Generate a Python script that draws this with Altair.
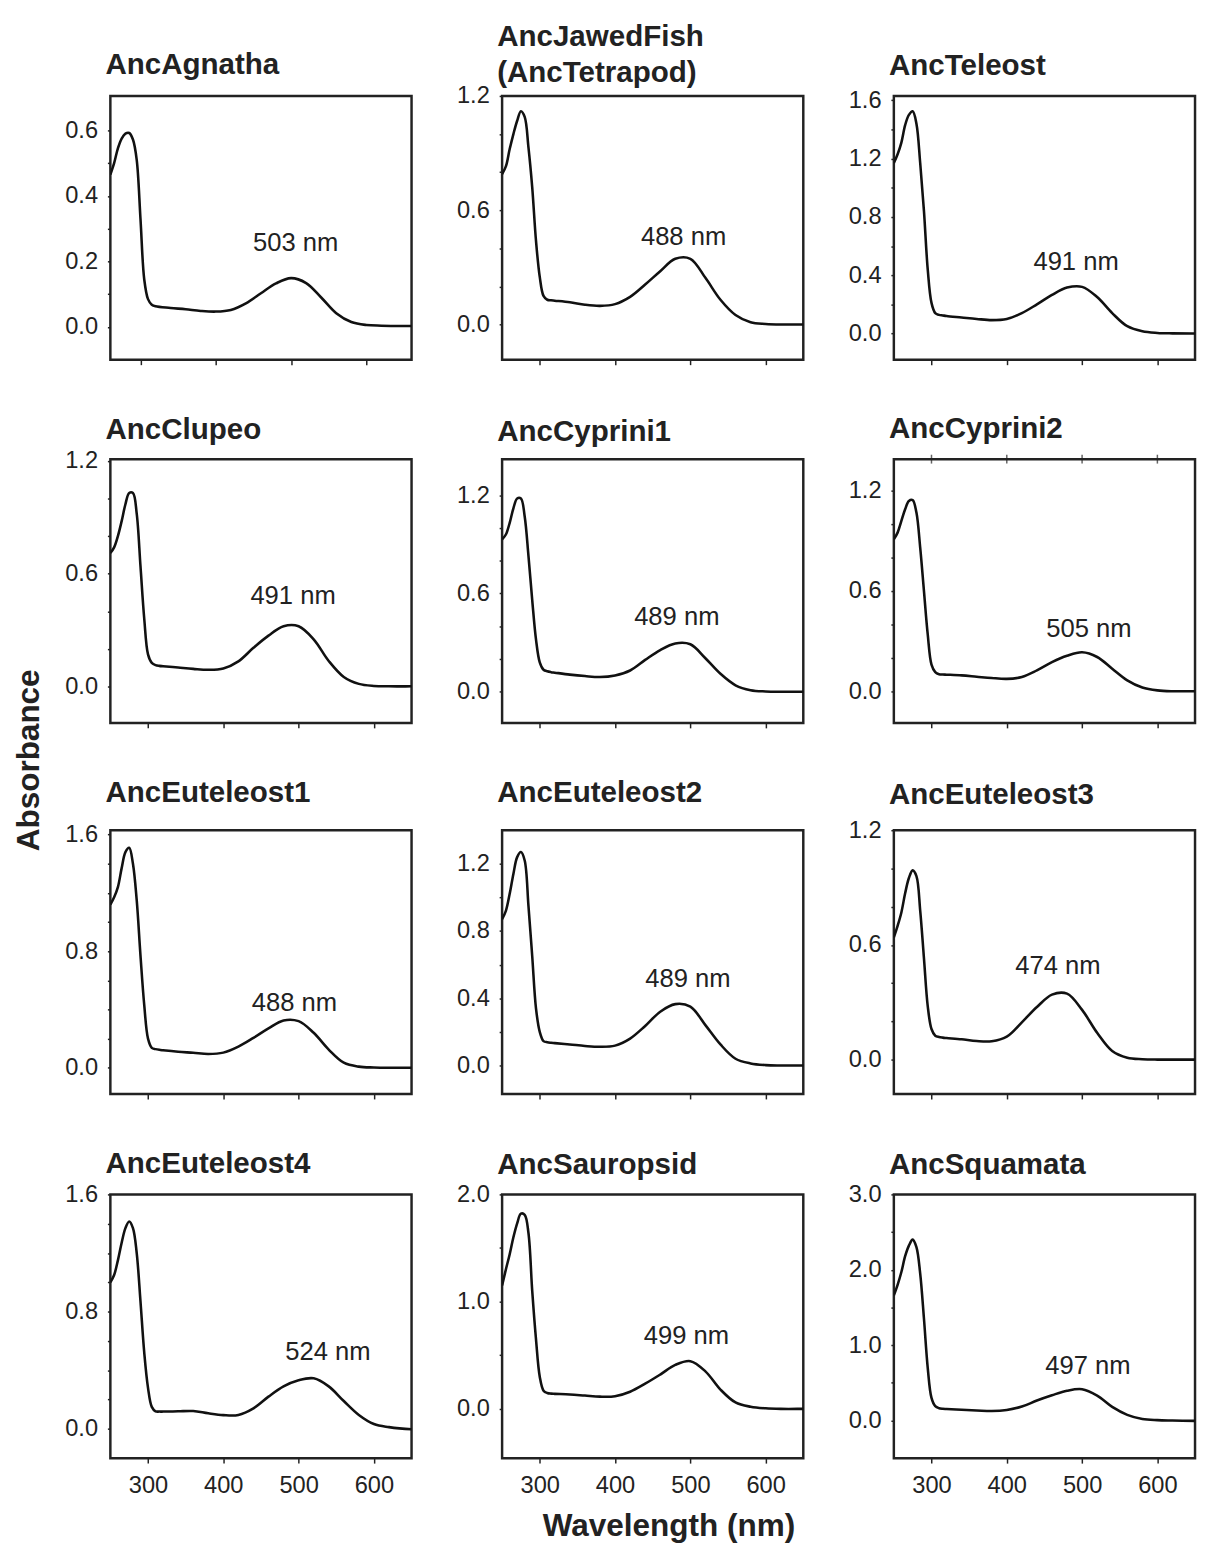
import altair as alt
import pandas as pd

FONT = "Liberation Sans"

# Wavelength grid (nm) shared by all spectra
WAVELENGTH = [250, 255, 260, 265, 270, 275, 280, 285, 290, 295, 300, 305, 310, 315, 320,
              340, 360, 380, 400, 420, 440, 460, 480, 500, 520, 540, 560, 580, 600, 620, 650, 660]

PANEL_NAMES = ["AncAgnatha", ["AncJawedFish", "(AncTetrapod)"], "AncTeleost",
               "AncClupeo", "AncCyprini1", "AncCyprini2",
               "AncEuteleost1", "AncEuteleost2", "AncEuteleost3",
               "AncEuteleost4", "AncSauropsid", "AncSquamata"]

PEAK_LABELS = ["503 nm", "488 nm", "491 nm", "491 nm", "489 nm", "505 nm",
               "488 nm", "489 nm", "474 nm", "524 nm", "499 nm", "497 nm"]

# absorbance readings per panel (None = outside the plotted range)
ABS_AGNATHA = [None, None, 0.465, 0.50, 0.545, 0.575, 0.59, 0.592, 0.572, 0.51, 0.33, 0.145, 0.085, 0.068, 0.063,
               0.058, 0.054, 0.049, 0.047, 0.052, 0.072, 0.103, 0.133, 0.149, 0.134, 0.09, 0.042, 0.015, 0.006, 0.004, 0.003, 0.003]
ABS_JAWEDFISH = [0.79, 0.83, 0.92, 1.0, 1.07, 1.12, 1.09, 0.93, 0.72, 0.44, 0.25, 0.15, 0.13, 0.127, 0.125,
                 0.117, 0.104, 0.098, 0.107, 0.145, 0.21, 0.28, 0.345, 0.345, 0.245, 0.13, 0.05, 0.012, 0.003, 0.0, 0.0, 0.0]
ABS_TELEOST = [1.17, 1.23, 1.31, 1.43, 1.5, 1.525, 1.44, 1.17, 0.84, 0.44, 0.21, 0.14, 0.128, 0.124, 0.12,
               0.11, 0.1, 0.092, 0.1, 0.14, 0.2, 0.265, 0.315, 0.32, 0.25, 0.14, 0.05, 0.015, 0.004, 0.001, 0.0, 0.0]
ABS_CLUPEO = [0.71, 0.74, 0.8, 0.88, 0.97, 1.03, 1.03, 0.92, 0.64, 0.36, 0.17, 0.125, 0.113, 0.109, 0.107,
              0.1, 0.093, 0.088, 0.095, 0.133, 0.205, 0.27, 0.32, 0.32, 0.25, 0.135, 0.05, 0.013, 0.002, 0.0, 0.0, 0.0]
ABS_CYPRINI1 = [0.93, 0.96, 1.03, 1.12, 1.18, 1.18, 1.07, 0.83, 0.56, 0.32, 0.18, 0.135, 0.125, 0.12, 0.117,
                0.105, 0.096, 0.09, 0.1, 0.13, 0.195, 0.255, 0.295, 0.29, 0.205, 0.11, 0.04, 0.01, 0.002, 0.0, 0.0, 0.0]
ABS_CYPRINI2 = [0.91, 0.95, 1.02, 1.09, 1.14, 1.145, 1.07, 0.86, 0.6, 0.34, 0.16, 0.115, 0.102, 0.1, 0.099,
                0.095, 0.087, 0.079, 0.074, 0.085, 0.125, 0.174, 0.212, 0.233, 0.205, 0.135, 0.065, 0.022, 0.005, 0.0, 0.0, 0.0]
ABS_EUTELEOST1 = [1.12, 1.17, 1.24, 1.37, 1.48, 1.51, 1.4, 1.15, 0.77, 0.43, 0.2, 0.137, 0.128, 0.123, 0.12,
                  0.11, 0.103, 0.095, 0.104, 0.145, 0.205, 0.27, 0.325, 0.32, 0.24, 0.125, 0.035, 0.008, 0.002, 0.0, 0.0, 0.0]
ABS_EUTELEOST2 = [0.87, 0.92, 1.02, 1.14, 1.24, 1.27, 1.22, 0.95, 0.65, 0.34, 0.2, 0.145, 0.138, 0.135, 0.133,
                  0.125, 0.116, 0.111, 0.118, 0.16, 0.235, 0.32, 0.365, 0.35, 0.24, 0.125, 0.04, 0.012, 0.002, 0.0, 0.0, 0.0]
ABS_EUTELEOST3 = [0.64, 0.7, 0.77, 0.87, 0.95, 0.99, 0.96, 0.78, 0.53, 0.28, 0.16, 0.125, 0.118, 0.115, 0.113,
                  0.106, 0.097, 0.096, 0.12, 0.195, 0.275, 0.34, 0.345, 0.26, 0.14, 0.045, 0.01, 0.002, 0.0, 0.0, 0.0, 0.0]
ABS_EUTELEOST4 = [1.0, 1.05, 1.15, 1.27, 1.37, 1.415, 1.37, 1.2, 0.87, 0.52, 0.28, 0.15, 0.12, 0.118, 0.118,
                  0.12, 0.122, 0.106, 0.094, 0.095, 0.14, 0.22, 0.29, 0.332, 0.345, 0.29, 0.19, 0.095, 0.033, 0.012, -0.003, -0.004]
ABS_SAUROPSID = [1.15, 1.3, 1.44, 1.6, 1.73, 1.82, 1.81, 1.64, 1.1, 0.65, 0.3, 0.17, 0.148, 0.142, 0.14,
                 0.134, 0.124, 0.114, 0.118, 0.16, 0.235, 0.32, 0.41, 0.445, 0.35, 0.18, 0.06, 0.02, 0.005, 0.0, 0.0, 0.0]
ABS_SQUAMATA = [1.66, 1.8, 1.97, 2.18, 2.32, 2.4, 2.3, 1.95, 1.35, 0.7, 0.3, 0.19, 0.163, 0.155, 0.152,
                0.142, 0.134, 0.126, 0.14, 0.185, 0.265, 0.335, 0.395, 0.415, 0.33, 0.18, 0.075, 0.02, 0.005, 0.0, -0.005, -0.005]

ABSORBANCE = [ABS_AGNATHA, ABS_JAWEDFISH, ABS_TELEOST, ABS_CLUPEO, ABS_CYPRINI1, ABS_CYPRINI2,
              ABS_EUTELEOST1, ABS_EUTELEOST2, ABS_EUTELEOST3, ABS_EUTELEOST4, ABS_SAUROPSID, ABS_SQUAMATA]

# where each peak label sits (wavelength, absorbance)
LABEL_WL = [506, 491, 492, 492.6, 482, 509, 494.5, 496.8, 468, 538.9, 494.8, 507.8]
LABEL_AB = [0.257, 0.459, 0.493, 0.478, 0.457, 0.369, 0.446, 0.514, 0.489, 0.522, 0.677, 0.723]

X_DOMAINS = [[260, 660]] + [[250, 650]] * 11
Y_DOMAINS = [[-0.1, 0.705], [-0.185, 1.2], [-0.18, 1.63],
             [-0.195, 1.21], [-0.19, 1.42], [-0.19, 1.39],
             [-0.18, 1.63], [-0.17, 1.4], [-0.18, 1.2],
             [-0.2, 1.6], [-0.46, 2.0], [-0.5, 3.0]]

Y_TICKS = [[0, 0.1, 0.2, 0.3, 0.4, 0.5, 0.6],
           [0, 0.2, 0.4, 0.6, 0.8, 1.0, 1.2],
           [0, 0.2, 0.4, 0.6, 0.8, 1.0, 1.2, 1.4, 1.6],
           [0, 0.2, 0.4, 0.6, 0.8, 1.0, 1.2],
           [0, 0.2, 0.4, 0.6, 0.8, 1.0, 1.2],
           [0, 0.2, 0.4, 0.6, 0.8, 1.0, 1.2],
           [0, 0.2, 0.4, 0.6, 0.8, 1.0, 1.2, 1.4, 1.6],
           [0, 0.2, 0.4, 0.6, 0.8, 1.0, 1.2],
           [0, 0.2, 0.4, 0.6, 0.8, 1.0, 1.2],
           [0, 0.2, 0.4, 0.6, 0.8, 1.0, 1.2, 1.4, 1.6],
           [0, 0.5, 1.0, 1.5, 2.0],
           [0, 0.5, 1.0, 1.5, 2.0, 2.5, 3.0]]
Y_LABELS = [[0, 0.2, 0.4, 0.6], [0, 0.6, 1.2], [0, 0.4, 0.8, 1.2, 1.6],
            [0, 0.6, 1.2], [0, 0.6, 1.2], [0, 0.6, 1.2],
            [0, 0.8, 1.6], [0, 0.4, 0.8, 1.2], [0, 0.6, 1.2],
            [0, 0.8, 1.6], [0, 1.0, 2.0], [0, 1.0, 2.0, 3.0]]
X_TICKS = [300, 400, 500, 600]
TOP_TICK_PANELS = [5]  # AncCyprini2 also shows wavelength ticks along its top edge

TITLE_OFFSETS = [16, -4, 8, 4, 12, 11, 15, 23, 9, 4, 3, 3]


def panel(i):
    df = pd.DataFrame({"wl": WAVELENGTH, "ab": ABSORBANCE[i]}).dropna()
    lab = pd.DataFrame({"wl": [LABEL_WL[i]], "ab": [LABEL_AB[i]], "t": [PEAK_LABELS[i]]})
    bottom = i >= 9
    xaxis_kw = dict(values=X_TICKS, labels=bottom, tickSize=5, tickWidth=1.5,
                    labelFontSize=24, labelPadding=11, labelFlush=False,
                    labelOverlap=False, format="d", domain=False, grid=False)
    if i == 10:
        xaxis_kw.update(title="Wavelength (nm)", titleFontSize=32,
                        titleFontWeight="bold", titlePadding=14, titleX=169)
    else:
        xaxis_kw.update(title=None)
    xaxis = alt.Axis(**xaxis_kw)
    lbls = ",".join(str(v) for v in Y_LABELS[i])
    yaxis = alt.Axis(values=Y_TICKS[i],
                     labelExpr=f"indexof([{lbls}], datum.value) >= 0 ? format(datum.value, '.1f') : ''",
                     tickSize=3, tickWidth=1.5, labelFontSize=24, labelPadding=10,
                     labelOverlap=False, labelFlush=False, title=None, domain=False, grid=False)
    xs = alt.Scale(domain=X_DOMAINS[i], nice=False, zero=False)
    ys = alt.Scale(domain=Y_DOMAINS[i], nice=False, zero=False)
    x = alt.X("wl:Q", scale=xs, axis=xaxis)
    y = alt.Y("ab:Q", scale=ys, axis=yaxis)
    line = alt.Chart(df).mark_line(color="#111", strokeWidth=2.6,
                                   interpolate="catmull-rom", clip=True).encode(x=x, y=y)
    text = alt.Chart(lab).mark_text(fontSize=26, font=FONT, color="#222").encode(
        x=x, y=y, text="t:N")
    layers = [line, text]
    if i in TOP_TICK_PANELS:
        top = pd.DataFrame({"wl": X_TICKS, "ab": [Y_DOMAINS[i][1]] * len(X_TICKS)})
        layers.append(alt.Chart(top).mark_tick(orient="vertical", size=9, thickness=1.5,
                                               color="#222").encode(x=x, y=y))
    return alt.layer(*layers).properties(
        width=306, height=268,
        title=alt.TitleParams(PANEL_NAMES[i], anchor="start", frame="group",
                              fontSize=30, fontWeight="bold", offset=TITLE_OFFSETS[i],
                              dx=-5, lineHeight=37, font=FONT, color="#222"))


rows = [alt.hconcat(*[panel(r * 3 + c) for c in range(3)], spacing=42) for r in range(4)]

chart = alt.vconcat(*rows, spacing=47).properties(
    title=alt.TitleParams("Absorbance", orient="left", anchor="middle", fontSize=32,
                          fontWeight="bold", offset=18, dx=22, font=FONT, color="#222"),
    padding={"left": 5, "top": 0, "right": 0, "bottom": 0},
).configure_view(
    stroke="#222", strokeWidth=2.5
).configure_axis(
    labelFont=FONT, titleFont=FONT, labelColor="#222", titleColor="#222", tickColor="#222"
).configure_title(font=FONT, color="#222")

chart.save("out.html", embed_options={"renderer": "svg", "actions": False})
